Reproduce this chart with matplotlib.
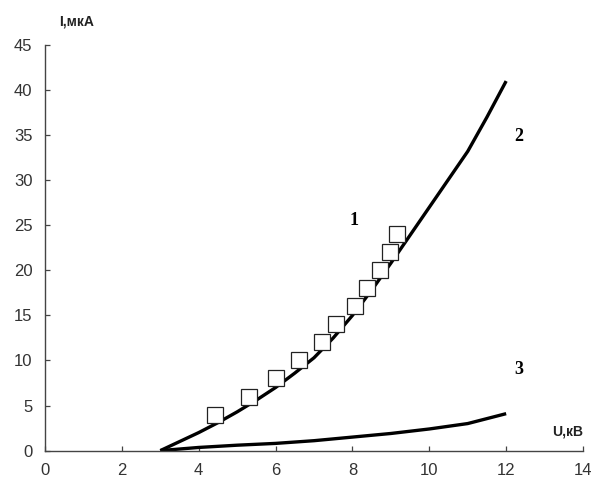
import matplotlib
matplotlib.use("Agg")
import matplotlib.pyplot as plt

# measured points (curve 1)
u_meas = [4.43, 5.32, 6.01, 6.62, 7.20, 7.57, 8.06, 8.39, 8.71, 8.97, 9.17]
i_meas = [4.0, 6.0, 8.0, 10.0, 12.0, 14.0, 16.0, 18.0, 20.0, 22.0, 24.0]

u_curve2 = [3.0, 3.5, 4.0, 4.5, 5.0, 5.5, 6.0, 6.5, 7.0, 7.5, 8.0, 8.5, 9.0,
            9.5, 10.0, 10.5, 11.0, 11.5, 12.0]
i_curve2 = [0.0, 1.0, 2.0, 3.1, 4.3, 5.6, 7.0, 8.6, 10.3, 12.5, 15.0, 17.8, 20.8,
            23.9, 27.0, 30.1, 33.2, 37.0, 41.0]

# calculated curve 3
u_curve3 = [3, 4, 5, 6, 7, 8, 9, 10, 11, 12]
i_curve3 = [0.0, 0.35, 0.6, 0.8, 1.1, 1.5, 1.9, 2.4, 3.0, 4.1]

x_ticks = [0, 2, 4, 6, 8, 10, 12, 14]
y_ticks = [0, 5, 10, 15, 20, 25, 30, 35, 40, 45]

fig = plt.figure(figsize=(5.94, 4.84), dpi=100)
ax = fig.add_axes([0.0758, 0.069, 0.9057, 0.838])

ax.plot(u_curve2, i_curve2, c="black", lw=2.4, solid_capstyle="butt", solid_joinstyle="round")
ax.plot(u_curve3, i_curve3, c="black", lw=2.4, solid_capstyle="butt", solid_joinstyle="round")
ax.plot(u_meas, i_meas, ls="none", marker="s", ms=11, mfc="white", mec="#222222", mew=0.9)

ax.set_xlim(0, 14)
ax.set_ylim(0, 45)
ax.set_xticks(x_ticks)
ax.set_yticks(y_ticks)

for side in ["top", "right"]:
    ax.spines[side].set_visible(False)
for side in ["left", "bottom"]:
    ax.spines[side].set_color("#444444")
    ax.spines[side].set_linewidth(1.0)

ax.tick_params(direction="in", length=3.5, width=0.9, color="#444444",
               labelsize=12, labelcolor="#333333", pad=9)
for lab in ax.get_xticklabels() + ax.get_yticklabels():
    lab.set_family("Liberation Sans")

# curve numbers
num_font = dict(family="Liberation Serif", weight="bold", fontsize=13, ha="center", va="center")
ax.text(8.04, 25.5, "1", **num_font)
ax.text(12.34, 34.8, "2", **num_font)
ax.text(12.34, 8.95, "3", **num_font)

# axis captions
ax.text(0.83, 47.6, "I,мкА", family="Liberation Sans", weight="bold", fontsize=10,
        ha="center", va="center", color="#222222", clip_on=False)
ax.text(13.6, 2.1, "U,кВ", family="Liberation Sans", weight="bold", fontsize=10,
        ha="center", va="center", color="#222222", clip_on=False)

fig.savefig("out.png", dpi=100)
